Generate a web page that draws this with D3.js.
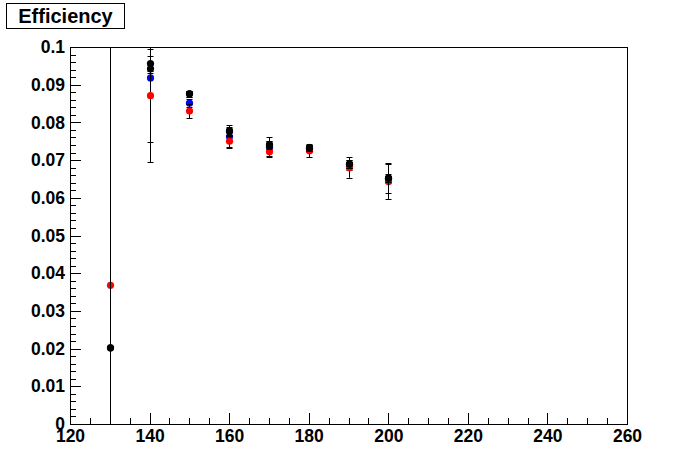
<!DOCTYPE html>
<html>
<head>
<meta charset="utf-8">
<script src="https://d3js.org/d3.v7.min.js"></script>
<style>
  body { margin: 0; background: #fff; }
  svg { display: block; font-family: "Liberation Sans", Arial, sans-serif; font-weight: bold; }
</style>
</head>
<body>
<svg width="696" height="472"></svg>
<script>
// mass points on the x axis
var massPoints = [130, 140, 150, 160, 170, 180, 190, 200];

// efficiencies and their errors, one array per graph (null = no point)
var effBlue   = [null,   0.0918, 0.0851, 0.0762, 0.0734, 0.0731, 0.0684, 0.0648];
var errBlue   = [0,      0.0223, 0.0010, 0.0031, 0.0027, 0.0010, 0.0010, 0.0010];
var effRed    = [0.0368, 0.0871, 0.0830, 0.0750, 0.0722, 0.0725, 0.0680, 0.0643];
var errRed    = [0.0700, 0.0123, 0.0019, 0.0015, 0.0012, 0.0018, 0.0027, 0.0046];
var effBlack2 = [0.0202, 0.0942, 0.0876, 0.0776, 0.0740, 0.0732, 0.0689, 0.0652];
var errBlack2 = [0.0900, 0.0010, 0.0008, 0.0010, 0.0010, 0.0008, 0.0010, 0.0010];
var effBlack1 = [0.0202, 0.0956, 0.0876, 0.0777, 0.0741, 0.0732, 0.0690, 0.0652];
var errBlack1 = [0.0900, 0.0020, 0.0008, 0.0010, 0.0010, 0.0008, 0.0010, 0.0040];

var xTicks = [120, 140, 160, 180, 200, 220, 240, 260];
var yTicks = [0, 0.01, 0.02, 0.03, 0.04, 0.05, 0.06, 0.07, 0.08, 0.09, 0.1];
var yTickLabels = ["0", "0.01", "0.02", "0.03", "0.04", "0.05", "0.06", "0.07", "0.08", "0.09", "0.1"];

var series = [
  {eff: effBlue, err: errBlue, color: "#0000ff"},
  {eff: effRed, err: errRed, color: "#ff0000"},
  {eff: effBlack2, err: errBlack2, color: "#000000"},
  {eff: effBlack1, err: errBlack1, color: "#000000"}
];

var svg = d3.select("svg");
var fLeft = 70, fRight = 627, fTop = 47, fBottom = 424;

var x = d3.scaleLinear().domain([120, 260]).range([fLeft, fRight]);
var y = d3.scaleLinear().domain([0, 0.1]).range([fBottom, fTop]);

svg.append("clipPath").attr("id", "frame")
  .append("rect").attr("x", fLeft).attr("y", fTop)
  .attr("width", fRight - fLeft).attr("height", fBottom - fTop);

// minor ticks
var xMinor = d3.range(120, 260.1, 5);
var yMinor = d3.range(0, 0.1001, 0.002);
svg.append("g").attr("transform", "translate(0," + fBottom + ")")
  .call(d3.axisBottom(x).tickValues(xMinor).tickSize(-6).tickFormat(""))
  .call(g => g.select(".domain").remove());
svg.append("g").attr("transform", "translate(" + fLeft + ",0)")
  .call(d3.axisLeft(y).tickValues(yMinor).tickSize(-6).tickFormat(""))
  .call(g => g.select(".domain").remove());

// major ticks and labels
var xAxis = svg.append("g").attr("transform", "translate(0," + fBottom + ")")
  .call(d3.axisBottom(x).tickValues(xTicks).tickSize(-11).tickPadding(6).tickFormat(d3.format("d")));
xAxis.select(".domain").remove();
xAxis.selectAll("text").attr("y", 5).attr("dy", "0.75em")
  .style("font-size", "17.5px").style("font-family", "Liberation Sans").style("font-weight", "bold").attr("fill", "#000");

var yAxis = svg.append("g").attr("transform", "translate(" + fLeft + ",0)")
  .call(d3.axisLeft(y).tickValues(yTicks).tickSize(-11).tickPadding(5)
    .tickFormat((d, i) => yTickLabels[i]));
yAxis.select(".domain").remove();
yAxis.selectAll("text")
  .style("font-size", "17.5px").style("font-family", "Liberation Sans").style("font-weight", "bold").attr("fill", "#000");

svg.selectAll(".tick line").attr("stroke", "#000").attr("shape-rendering", "crispEdges");

// frame
svg.append("rect").attr("x", fLeft).attr("y", fTop)
  .attr("width", fRight - fLeft).attr("height", fBottom - fTop)
  .attr("fill", "none").attr("stroke", "#000").attr("shape-rendering", "crispEdges");

// error bars and markers
var plot = svg.append("g").attr("clip-path", "url(#frame)");
series.forEach(function(s) {
  var pts = massPoints.map((m, i) => ({m: m, v: s.eff[i], e: s.err[i]})).filter(p => p.v != null);
  var g = plot.append("g");
  pts.forEach(function(p) {
    var cx = Math.round(x(p.m)) + 0.5;
    var y1 = y(p.v + p.e), y2 = y(p.v - p.e);
    g.append("line").attr("x1", cx).attr("x2", cx).attr("y1", y1).attr("y2", y2)
      .attr("stroke", "#000").attr("stroke-width", 1);
    [y1, y2].forEach(function(yy) {
      if (yy > fTop + 1 && yy < fBottom - 1) {
        g.append("line").attr("x1", cx - 3).attr("x2", cx + 3)
          .attr("y1", Math.round(yy) + 0.5).attr("y2", Math.round(yy) + 0.5)
          .attr("stroke", "#000").attr("stroke-width", 1);
      }
    });
  });
  g.selectAll("circle").data(pts).enter().append("circle")
    .attr("cx", d => Math.round(x(d.m)) + 0.5)
    .attr("cy", d => y(d.v))
    .attr("r", 3.6)
    .attr("fill", s.color);
});

// title box
svg.append("rect").attr("x", 6.5).attr("y", 3.5).attr("width", 118).attr("height", 25)
  .attr("fill", "#fff").attr("stroke", "#000");
svg.append("text").text("Efficiency")
  .attr("x", 65.5).attr("y", 23)
  .attr("text-anchor", "middle")
  .style("font-size", "20px");
</script>
</body>
</html>
